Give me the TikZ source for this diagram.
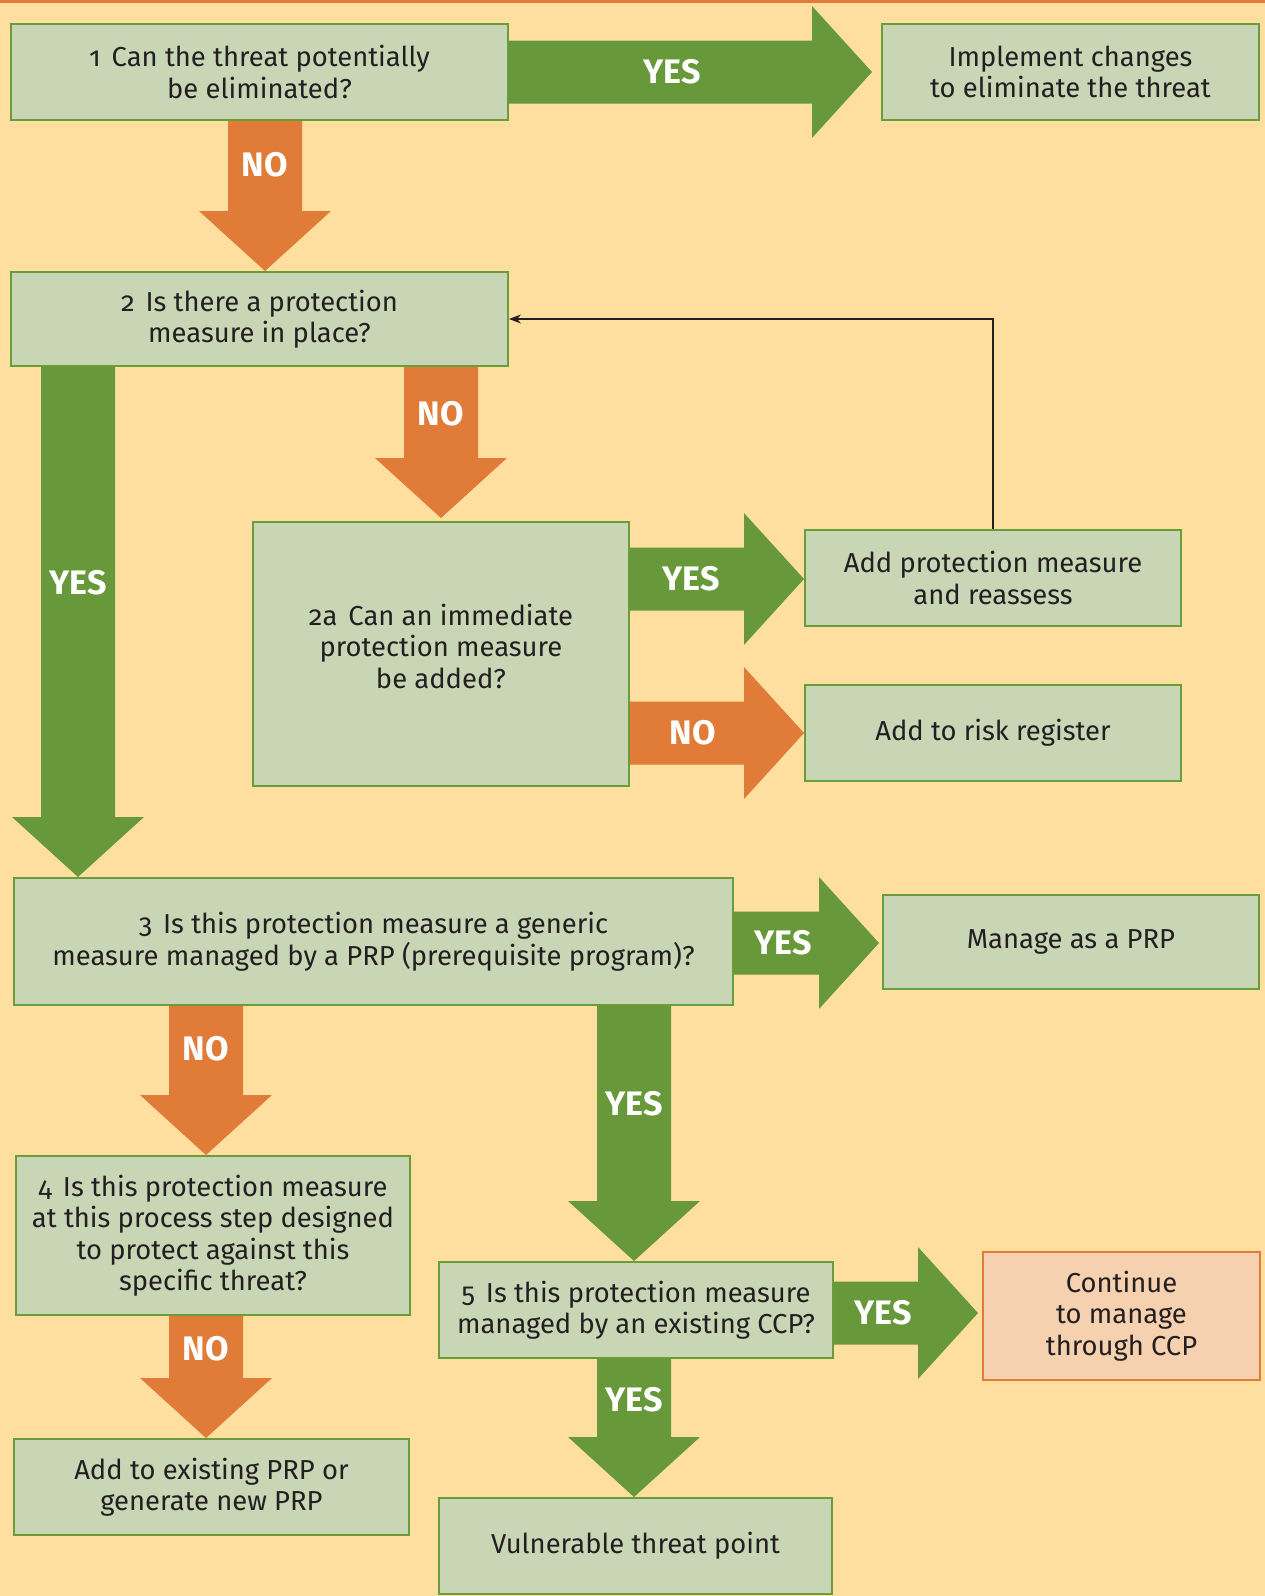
\documentclass[tikz,border=0pt]{standalone}
\usepackage{fontspec}
\setmainfont{Fira Sans}[Numbers=OldStyle]
\usetikzlibrary{calc,arrows.meta}
\definecolor{bgc}{HTML}{FEDF9F}
\definecolor{boxfill}{HTML}{C8D6B6}
\definecolor{boxline}{HTML}{6A9C3A}
\definecolor{ygreen}{HTML}{67983A}
\definecolor{norange}{HTML}{E07C38}
\definecolor{ccpfill}{HTML}{F5D1B0}
\definecolor{txt}{HTML}{231F20}
\pgfdeclarelayer{back}
\pgfdeclarelayer{arr}
\pgfsetlayers{back,arr,main}
\newcommand\numgap{\hspace{11pt}}
% vertical fat arrow: #1 x centre, #2 from, #3 to (tip), #4 colour, #5 label, #6 label y, #7 name
\newcommand\fatdown[7]{%
  \begin{pgfonlayer}{arr}
  \fill[#4] let \p1=(#2), \p2=(#3) in
    (#1pt-37pt,\y1) -- (#1pt+37pt,\y1) -- (#1pt+37pt,\y2+60pt) -- (#1pt+66pt,\y2+60pt)
    -- (#1pt,\y2) -- (#1pt-66pt,\y2+60pt) -- (#1pt-37pt,\y2+60pt) -- cycle;
  \end{pgfonlayer}
  \node[lbl] (#7) at (#1,#6) {#5};}
% horizontal fat arrow: #1 y centre, #2 from, #3 to (tip), #4 colour, #5 label, #6 label x, #7 name
\newcommand\fatright[7]{%
  \begin{pgfonlayer}{arr}
  \fill[#4] let \p1=(#2), \p2=(#3) in
    (\x1,-#1pt+31.5pt) -- (\x2-60pt,-#1pt+31.5pt) -- (\x2-60pt,-#1pt+66pt) -- (\x2,-#1pt)
    -- (\x2-60pt,-#1pt-66pt) -- (\x2-60pt,-#1pt-31.5pt) -- (\x1,-#1pt-31.5pt) -- cycle;
  \end{pgfonlayer}
  \node[lbl] (#7) at (#6,#1) {#5};}
\begin{document}
\begin{tikzpicture}[x=1pt,y=-1pt,
  boxtext/.style={inner sep=0pt, align=center, font=\fontsize{27.4}{31.5}\selectfont, text=txt},
  box/.style={boxtext, draw=boxline, line width=2pt, fill=boxfill},
  lbl/.style={text=white, font=\fontsize{34}{34}\selectfont\bfseries}]
\useasboundingbox (0,0) rectangle (1265,1596);
\begin{pgfonlayer}{back}
\fill[bgc] (0,0) rectangle (1265,1596);
\fill[norange] (0,0) rectangle (1265,2.5);
\end{pgfonlayer}

\node[box, minimum width=497pt, minimum height=96pt] (b1) at (259.5,72)
  {1\numgap Can the threat potentially\\be eliminated?};
\node[box, minimum width=377pt, minimum height=96pt] (bImpl) at (1070.5,72)
  {Implement changes\\to eliminate the threat};
\node[box, minimum width=497pt, minimum height=94pt] (b2) at (259.5,319)
  {2\numgap Is there a protection\\measure in place?};
\node[box, minimum width=376pt, minimum height=264pt] (b2a) at (441,654) {};
\node[boxtext] (t2a) at (441,646)
  {2a\numgap Can an immediate\\protection measure\\be added?};
\node[box, minimum width=376pt, minimum height=96pt] (bAdd) at (993,578)
  {Add protection measure\\and reassess};
\node[box, minimum width=376pt, minimum height=96pt] (bRisk) at (993,733)
  {Add to risk register};
\node[box, minimum width=719pt, minimum height=127pt] (b3) at (373.5,941.5)
  {3\numgap Is this protection measure a generic\\measure managed by a PRP (prerequisite program)?};
\node[box, minimum width=376pt, minimum height=94pt] (bPRP) at (1071,942)
  {Manage as a PRP};
\node[box, minimum width=394pt, minimum height=159pt] (b4) at (213,1235.5)
  {4\numgap Is this protection measure\\at this process step designed\\to protect against this\\specific threat?};
\node[box, minimum width=395pt, minimum height=96pt] (bNew) at (211.5,1487)
  {Add to existing PRP or\\generate new PRP};
\node[box, minimum width=394pt, minimum height=96pt] (b5) at (636,1310)
  {5\numgap Is this protection measure\\managed by an existing CCP?};
\node[box, draw=norange, fill=ccpfill, minimum width=277pt, minimum height=128pt] (bCCP) at (1121.5,1316)
  {Continue\\to manage\\through CCP};
\node[box, minimum width=393pt, minimum height=96pt] (bVul) at (635.5,1546)
  {Vulnerable threat point};

\fatright{72}{b1.east}{$(bImpl.west)+(-9,0)$}{ygreen}{YES}{672}{l1}
\fatdown{265}{b1.south}{b2.north}{norange}{NO}{165}{l2}
\fatdown{441}{b2.south}{$(b2a.north)+(0,-3)$}{norange}{NO}{414}{l3}
\fatdown{78}{b2.south}{b3.north}{ygreen}{YES}{583}{l4}
\fatright{579}{b2a.east}{bAdd.west}{ygreen}{YES}{691}{l5}
\fatright{733}{b2a.east}{bRisk.west}{norange}{NO}{693}{l6}
\fatright{943}{b3.east}{$(bPRP.west)+(-3,0)$}{ygreen}{YES}{783}{l7}
\fatdown{206}{b3.south}{b4.north}{norange}{NO}{1049}{l8}
\fatdown{634}{b3.south}{b5.north}{ygreen}{YES}{1104}{l9}
\fatdown{206}{b4.south}{bNew.north}{norange}{NO}{1349}{l10}
\fatright{1313}{b5.east}{$(bCCP.west)+(-4,0)$}{ygreen}{YES}{883}{l11}
\fatdown{634}{b5.south}{bVul.north}{ygreen}{YES}{1400}{l12}

\draw[txt, line width=1.3pt, -{Stealth[length=12pt,width=9pt]}] (bAdd.north) |- (b2.east);
\end{tikzpicture}
\end{document}
